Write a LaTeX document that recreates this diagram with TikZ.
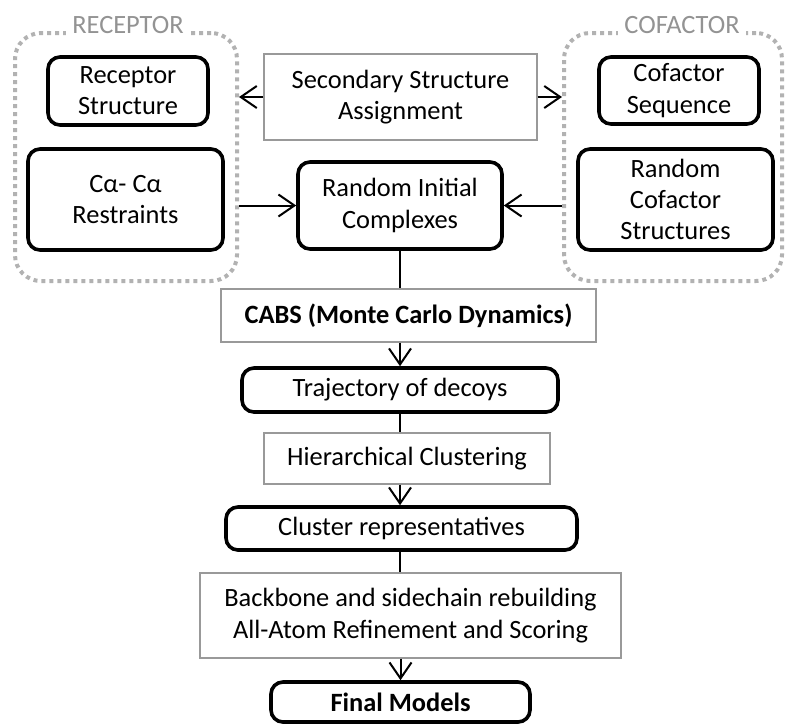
\documentclass[tikz,border=0pt]{standalone}
\usepackage{fontspec}
\setmainfont{Carlito}
\usetikzlibrary{arrows.meta}

\begin{document}
\begin{tikzpicture}[x=0.5pt,y=-0.5pt,
  font=\fontsize{13.2}{15.6}\selectfont,
  thickbox/.style={draw,line width=1.8pt,rounded corners=6pt,align=center,inner sep=0pt},
  thinbox/.style={draw=gray!80,line width=0.6pt,align=center,inner sep=0pt},
  groupbox/.style={draw=gray!60,line width=2pt,dash pattern=on 2pt off 2pt,rounded corners=13pt,inner sep=0pt},
  grouplabel/.style={fill=white,text=gray!85,inner sep=3pt},
  arr/.style={-{Straight Barb[length=8pt,width=11pt]},line width=1pt},
  link/.style={line width=1pt}]
\useasboundingbox (0,0) rectangle (785,725);

% receptor side
\node[groupbox,minimum width=111pt,minimum height=124pt] (recgrp) at (126,157) {};
\node[grouplabel] (reclab) at (128,25) {RECEPTOR};
\node[thickbox,minimum width=80pt,minimum height=34pt] (recstr) at (128,91) {Receptor\\Structure};
\node[thickbox,minimum width=97.5pt,minimum height=50.5pt] (restr) at (125.5,199.5) {Cα- Cα\\Restraints};

% cofactor side
\node[groupbox,minimum width=109pt,minimum height=124pt] (cofgrp) at (673,157) {};
\node[grouplabel] (coflab) at (682,25) {COFACTOR};
\node[thickbox,minimum width=80pt,minimum height=33.5pt] (cofseq) at (679,90.5) {Cofactor\\Sequence};
\node[thickbox,minimum width=97.5pt,minimum height=50.5pt] (rcs) at (675.5,199.5) {Random\\Cofactor\\Structures};

% middle column
\node[thinbox,minimum width=136.5pt,minimum height=43pt] (ssa) at (400.5,97) {Secondary Structure\\Assignment};
\node[thickbox,minimum width=102pt,minimum height=43.5pt] (ric) at (400,205.5) {Random Initial\\Complexes};
\node[thinbox,minimum width=187.5pt,minimum height=26.5pt] (cabs) at (408.5,315.5) {\textbf{CABS (Monte Carlo Dynamics)}};
\node[thickbox,minimum width=158pt,minimum height=22pt] (traj) at (400,390) {Trajectory of decoys};
\node[thinbox,minimum width=143pt,minimum height=25.5pt] (hc) at (407,458.5) {Hierarchical Clustering};
\node[thickbox,minimum width=175.5pt,minimum height=21.5pt] (cr) at (401.5,528.5) {Cluster representatives};
\node[thinbox,minimum width=210.5pt,minimum height=42.5pt] (bb) at (410.5,615.5) {Backbone and sidechain rebuilding\\All-Atom Refinement and Scoring};
\node[thickbox,minimum width=129.5pt,minimum height=20pt] (fm) at (400.5,702) {\textbf{Final Models}};

% connectors
\draw[arr] (ssa.west) -- (ssa.west -| recgrp.east);
\draw[arr] (ssa.east) -- (ssa.east -| cofgrp.west);
\draw[arr] (recgrp.east |- ric.west) -- (ric.west);
\draw[arr] (cofgrp.west |- ric.east) -- (ric.east);
\draw[link] (ric.south) -- (ric.south |- cabs.north);
\draw[arr] (traj.north |- cabs.south) -- (traj.north);
\draw[link] (traj.south) -- (traj.south |- hc.north);
\draw[arr] (traj.south |- hc.south) -- (traj.south |- cr.north);
\draw[link] (traj.south |- cr.south) -- (traj.south |- bb.north);
\draw[arr] (fm.north |- bb.south) -- (fm.north);
\end{tikzpicture}
\end{document}
